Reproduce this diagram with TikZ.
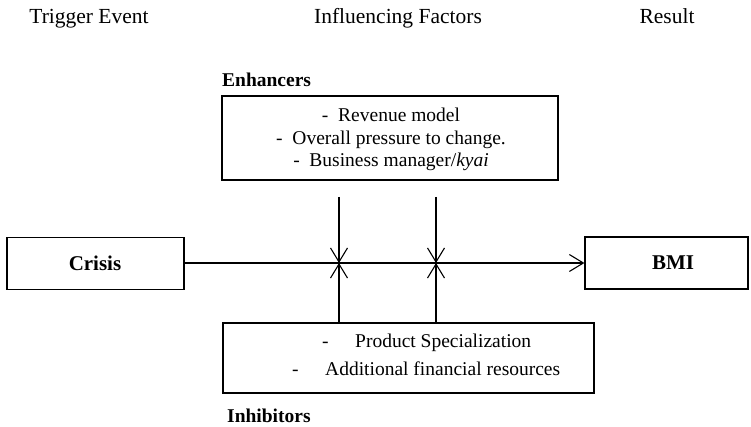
\documentclass[tikz,border=0pt]{standalone}
\usepackage{fontspec}
\setmainfont{Liberation Serif}
\usetikzlibrary{arrows.meta}
\begin{document}
\begin{tikzpicture}[x=1pt,y=-1pt,
  every node/.style={font=\fontsize{19.5}{22.5}\selectfont, inner sep=0pt},
  box/.style={draw, line width=1.2pt},
  link/.style={line width=1.1pt, -{Straight Barb[length=14pt,width=17pt,line width=1.1pt]}},
  hdr/.style={anchor=base, font=\fontsize{21.5}{24}\selectfont},
  endbox/.style={box, minimum height=52pt, font=\fontsize{21}{24}\selectfont\bfseries},
  ttl/.style={font=\fontsize{19.5}{22.5}\selectfont\bfseries, anchor=base west}]
\useasboundingbox (0,0) rectangle (751,427);

% column headings
\node[hdr] (h1) at (89,24) {Trigger Event};
\node[hdr] (h2) at (398,24) {Influencing Factors};
\node[hdr] (h3) at (667,24) {Result};

% trigger and result boxes
\node[endbox, minimum width=177pt] (crisis) at (95.5,263.5) {};
\node[font=\fontsize{21}{24}\selectfont\bfseries] (crisisT) at (95,263.5) {Crisis};
\node[endbox, minimum width=163pt] (bmi) at (666.5,263) {};
\node[font=\fontsize{21}{24}\selectfont\bfseries] (bmiT) at (673,263) {BMI};

% enhancers
\node[box, minimum width=336pt, minimum height=84pt] (enh) at (390,138) {};
\node[ttl] (enhT) at (222,87) {Enhancers};
\node[align=center] (enhL) at (391,139.5) {-\ \ Revenue model\\-\ \ Overall pressure to change.\\-\ \ Business manager/\textit{kyai}};

% inhibitors
\node[box, minimum width=371pt, minimum height=70pt] (inh) at (408.5,358) {};
\node[ttl] (inhT) at (227,422) {Inhibitors};
\node[anchor=west] (inh1) at (322,343) {\makebox[33pt][l]{-}Product Specialization};
\node[anchor=west] (inh2) at (292,369) {\makebox[33pt][l]{-}Additional financial resources};

% junctions on the main flow
\coordinate (j1) at (339,263);
\coordinate (j2) at (436,263);
\coordinate (d1) at (339,197);
\coordinate (d2) at (436,197);

% connectors
\draw[link] (crisis.east |- j1) -- (bmi.west |- j1);
\draw[link] (d1) -- (j1);
\draw[link] (d2) -- (j2);
\draw[link] (inh.north -| j1) -- (j1);
\draw[link] (inh.north -| j2) -- (j2);
\end{tikzpicture}
\end{document}
